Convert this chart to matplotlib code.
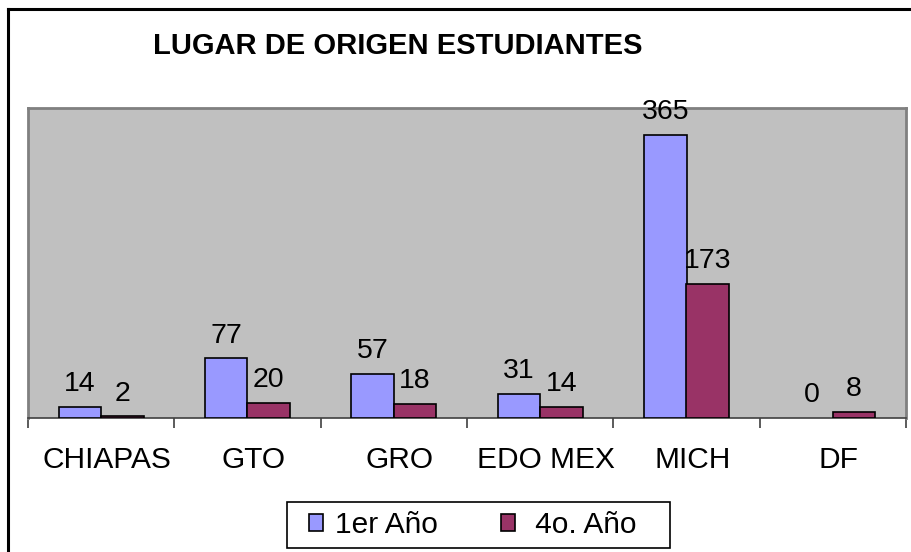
import matplotlib
matplotlib.use("Agg")
import matplotlib.pyplot as plt
import matplotlib.transforms as mtransforms
from matplotlib.lines import Line2D
from matplotlib.patches import Rectangle
import numpy as np

plt.rcParams['font.family'] = ['Liberation Sans', 'DejaVu Sans']

categories = ["CHIAPAS", "GTO", "GRO", "EDO MEX", "MICH", "DF"]
primer_anio = [14, 77, 57, 31, 365, 0]
cuarto_anio = [2, 20, 18, 14, 173, 8]
series_names = ["1er Año", " 4o. Año"]
title = "LUGAR DE ORIGEN ESTUDIANTES"

W, H = 912, 552
fig = plt.figure(figsize=(W / 100, H / 100), dpi=100)
fig.patch.set_facecolor("white")

# figure border (black frame)
fig.add_artist(Line2D([8 / W, 8 / W], [0, 1 - 9 / H], transform=fig.transFigure,
                      color="black", lw=2.2))
fig.add_artist(Line2D([8 / W, 1], [1 - 9 / H, 1 - 9 / H], transform=fig.transFigure,
                      color="black", lw=2.2))

ax = fig.add_axes([28 / W, 1 - 418 / H, (906 - 28) / W, (418 - 108) / H])
ax.set_facecolor("#C0C0C0")

x = np.arange(len(categories))
bw = 0.29
b1 = ax.bar(x - bw / 2, primer_anio, bw, color="#9999FF", edgecolor="black", linewidth=1.2,
            label=series_names[0], zorder=3)
b2 = ax.bar(x + bw / 2, cuarto_anio, bw, color="#993366", edgecolor="black", linewidth=1.2,
            label=series_names[1], zorder=3)

for bars, vals in ((b1, primer_anio), (b2, cuarto_anio)):
    for rect, v in zip(bars, vals):
        if v == 0:
            rect.set_linewidth(0)
        ax.annotate(str(v), (rect.get_x() + rect.get_width() / 2, v),
                    xytext=(0, 7), textcoords="offset points", ha="center", va="bottom",
                    fontsize=20.5, annotation_clip=False, clip_on=False)

ax.set_xlim(-0.5, len(categories) - 0.5)
ax.set_ylim(0, 400)
ax.set_yticks([])
ax.set_xticks(x)
ax.set_xticklabels(categories, fontsize=21.5)
ax.tick_params(axis="x", which="major", length=0, pad=20)
shift = mtransforms.ScaledTranslation(6 / 100, 0, fig.dpi_scale_trans)
for lab in ax.get_xticklabels():
    lab.set_transform(lab.get_transform() + shift)
ax.set_xticks(np.arange(-0.5, len(categories), 1.0), minor=True)
ax.tick_params(axis="x", which="minor", length=7, width=1.2, color="#404040", direction="out")

for s in ("top", "right", "left"):
    ax.spines[s].set_color("#808080")
    ax.spines[s].set_linewidth(2)
ax.spines["bottom"].set_color("#404040")
ax.spines["bottom"].set_linewidth(1.2)

fig.text(398 / W, 1 - 46 / H, title, fontsize=21, fontweight="bold", ha="center", va="center")

# legend box
fig.add_artist(Rectangle((287 / W, 1 - 548 / H), (670 - 287) / W, (548 - 502) / H,
                         transform=fig.transFigure, facecolor="white", edgecolor="black",
                         linewidth=1.2, zorder=1))
leg = fig.legend(handles=[b1, b2], labels=series_names, loc="center left",
                 bbox_to_anchor=(309 / W, 1 - 525 / H), ncol=2, fontsize=21.5,
                 frameon=False, handlelength=0.48, handleheight=0.48,
                 columnspacing=2.1, handletextpad=0.4, borderpad=0, borderaxespad=0)
leg.set_zorder(2)

fig.savefig("out.png", dpi=100, facecolor="white")
